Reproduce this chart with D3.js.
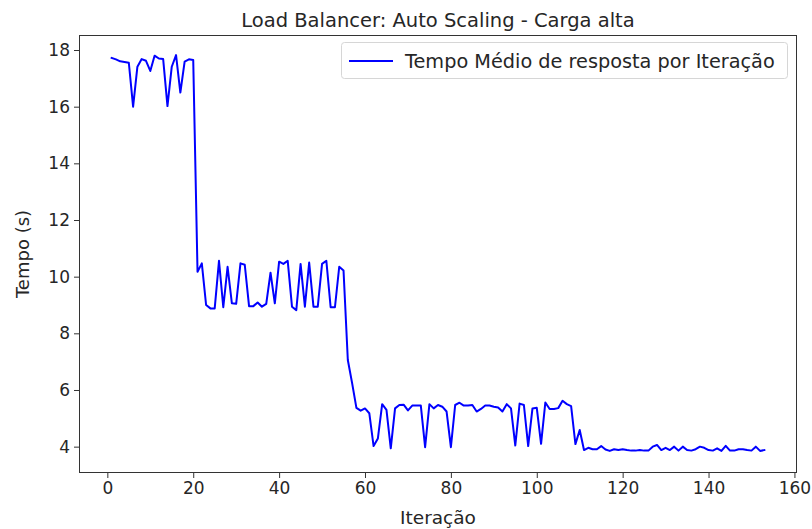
<!DOCTYPE html>
<html>
<head>
<meta charset="utf-8">
<script src="https://cdn.jsdelivr.net/npm/d3@7"></script>
<style>
  body { margin: 0; background: #fff; }
  text { font-family: "DejaVu Sans", sans-serif; fill: #262626; }
</style>
</head>
<body>
<svg id="chart" width="812" height="529"></svg>
<script>
const chartTitle = 'Load Balancer: Auto Scaling - Carga alta';
const xLabel = 'Iteração';
const yLabel = 'Tempo (s)';
const seriesName = 'Tempo Médio de resposta por Iteração';

// tempo médio por iteração
const responseTimes = [
  17.72, 17.67, 17.6, 17.58, 17.55, 16.0, 17.41, 17.68, 17.62, 17.26,
  17.8, 17.7, 17.68, 16.02, 17.41, 17.82, 16.5, 17.59, 17.67, 17.65,
  10.17, 10.47, 9.0, 8.88, 8.88, 10.56, 8.92, 10.35, 9.06, 9.04,
  10.47, 10.42, 8.96, 8.96, 9.09, 8.94, 9.04, 10.14, 9.06, 10.53,
  10.45, 10.56, 8.94, 8.82, 10.45, 8.94, 10.5, 8.94, 8.94, 10.45,
  10.56, 8.92, 8.92, 10.35, 10.22, 7.06, 6.24, 5.37, 5.27, 5.35,
  5.18, 4.02, 4.29, 5.5, 5.3, 3.94, 5.35, 5.47, 5.48, 5.28,
  5.45, 5.45, 5.45, 3.98, 5.5, 5.35, 5.47, 5.41, 5.24, 3.98,
  5.47, 5.55, 5.45, 5.45, 5.47, 5.24, 5.33, 5.45, 5.45, 5.41,
  5.38, 5.24, 5.5, 5.35, 4.04, 5.52, 5.47, 4.02, 5.35, 5.37,
  4.1, 5.56, 5.33, 5.33, 5.36, 5.62, 5.5, 5.43, 4.09, 4.59,
  3.88, 3.96, 3.91, 3.91, 4.02, 3.9, 3.85, 3.91, 3.88, 3.91,
  3.88, 3.86, 3.86, 3.88, 3.86, 3.86, 4.0, 4.06, 3.88, 3.96,
  3.88, 4.0, 3.86, 4.0, 3.88, 3.86, 3.91, 4.0, 3.96, 3.88,
  3.86, 3.94, 3.85, 4.03, 3.86, 3.86, 3.91, 3.91, 3.88, 3.86,
  4.0, 3.85, 3.88,
];
const iterations = responseTimes.map((_, i) => i + 1);

const xTicks = [0, 20, 40, 60, 80, 100, 120, 140, 160];
const yTicks = [4, 6, 8, 10, 12, 14, 16, 18];

const margin = { top: 35, right: 15, bottom: 56, left: 79 };
const width = 812;
const height = 529;
const lineColor = '#0000ff';
const tickFont = 17;

const svg = d3.select('#chart');
const plotW = width - margin.left - margin.right;
const plotH = height - margin.top - margin.bottom;

// matplotlib-like 5% padding around the data
const pad = (lo, hi) => [lo - (hi - lo) * 0.05, hi + (hi - lo) * 0.05];
const xDomain = pad(d3.min(iterations), d3.max(iterations));
const yDomain = [3.07, 18.53];

const x = d3.scaleLinear().domain(xDomain).range([margin.left, margin.left + plotW]);
const y = d3.scaleLinear().domain(yDomain).range([margin.top + plotH, margin.top]);

const data = iterations.map((it, i) => ({ it, v: responseTimes[i] }));

// line
svg.append('path')
  .datum(data)
  .attr('fill', 'none')
  .attr('stroke', lineColor)
  .attr('stroke-width', 2)
  .attr('stroke-linejoin', 'round')
  .attr('stroke-linecap', 'square')
  .attr('d', d3.line().x((d) => x(d.it)).y((d) => y(d.v)));

// axes
const xAxis = svg.append('g')
  .attr('transform', `translate(0,${margin.top + plotH})`)
  .call(d3.axisBottom(x).tickValues(xTicks).tickSize(5).tickPadding(4).tickFormat(d3.format('d')));
const yAxis = svg.append('g')
  .attr('transform', `translate(${margin.left},0)`)
  .call(d3.axisLeft(y).tickValues(yTicks).tickSize(5).tickPadding(4).tickFormat(d3.format('d')));

[xAxis, yAxis].forEach((g) => {
  g.select('.domain').remove();
  g.selectAll('.tick line').attr('stroke', '#333').attr('stroke-width', 1);
  g.selectAll('.tick text')
    .attr('fill', '#262626')
    .style('font-family', '"DejaVu Sans", sans-serif')
    .style('font-size', `${tickFont}px`);
});

// frame
svg.append('rect')
  .attr('x', margin.left + 0.5)
  .attr('y', margin.top + 0.5)
  .attr('width', plotW - 1)
  .attr('height', plotH - 1)
  .attr('fill', 'none')
  .attr('stroke', '#333')
  .attr('stroke-width', 1);

// title + axis labels
svg.append('text')
  .attr('x', margin.left + plotW / 2)
  .attr('y', 27)
  .attr('text-anchor', 'middle')
  .style('font-size', '19.5px')
  .text(chartTitle);

svg.append('text')
  .attr('x', margin.left + plotW / 2)
  .attr('y', 524)
  .attr('text-anchor', 'middle')
  .style('font-size', '18.5px')
  .text(xLabel);

svg.append('text')
  .attr('transform', `translate(29,${margin.top + plotH / 2}) rotate(-90)`)
  .attr('text-anchor', 'middle')
  .style('font-size', '18px')
  .text(yLabel);

// legend
const legend = svg.append('g').attr('transform', 'translate(341,42)');
legend.append('rect')
  .attr('x', 0.5)
  .attr('y', 0.5)
  .attr('width', 446)
  .attr('height', 36)
  .attr('rx', 3)
  .attr('fill', '#fff')
  .attr('fill-opacity', 0.8)
  .attr('stroke', '#d6d6d6');
legend.append('line')
  .attr('x1', 8)
  .attr('x2', 52)
  .attr('y1', 19)
  .attr('y2', 19)
  .attr('stroke', lineColor)
  .attr('stroke-width', 2);
legend.append('text')
  .attr('x', 64)
  .attr('y', 25.5)
  .style('font-size', '19.3px')
  .text(seriesName);
</script>
</body>
</html>
